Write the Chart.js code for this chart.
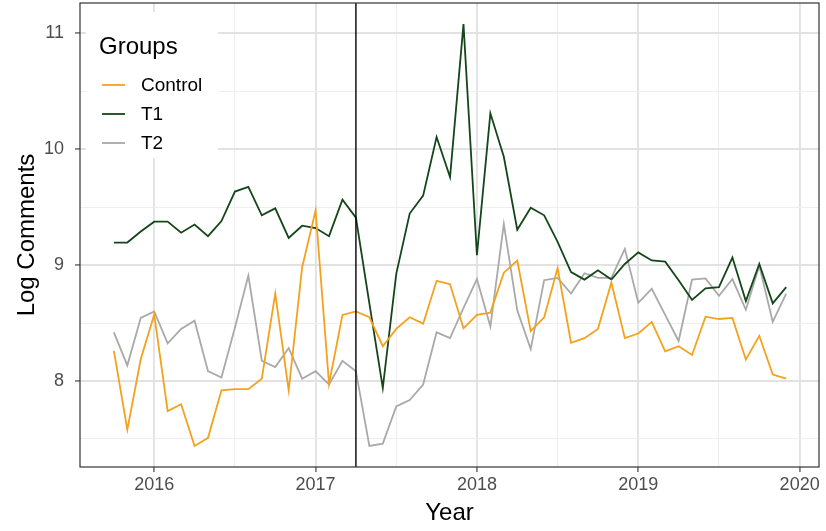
<!DOCTYPE html>
<html>
<head>
<meta charset="utf-8">
<script src="https://cdn.jsdelivr.net/npm/chart.js@4/dist/chart.umd.min.js"></script>
<style>
  html, body { margin: 0; padding: 0; background: #ffffff; }
  #wrap { width: 826px; height: 531px; }
</style>
</head>
<body>
<div id="wrap"><canvas id="chart" width="826" height="531"></canvas></div>
<script>
// Monthly observations, Oct 2015 – Dec 2019
const months = [
  '2015-10','2015-11','2015-12',
  '2016-01','2016-02','2016-03','2016-04','2016-05','2016-06','2016-07','2016-08','2016-09','2016-10','2016-11','2016-12',
  '2017-01','2017-02','2017-03','2017-04','2017-05','2017-06','2017-07','2017-08','2017-09','2017-10','2017-11','2017-12',
  '2018-01','2018-02','2018-03','2018-04','2018-05','2018-06','2018-07','2018-08','2018-09','2018-10','2018-11','2018-12',
  '2019-01','2019-02','2019-03','2019-04','2019-05','2019-06','2019-07','2019-08','2019-09','2019-10','2019-11','2019-12'
];

const control = [
  8.26, 7.58, 8.19,
  8.575, 7.74, 7.80, 7.44, 7.51, 7.92, 7.93, 7.93, 8.02, 8.755, 7.92, 8.98,
  9.47, 7.975, 8.57, 8.60, 8.55, 8.30, 8.45, 8.55, 8.495, 8.865, 8.835, 8.455,
  8.57, 8.59, 8.935, 9.04, 8.43, 8.55, 8.975, 8.33, 8.37, 8.45, 8.85, 8.37,
  8.41, 8.51, 8.255, 8.30, 8.225, 8.555, 8.535, 8.545, 8.185, 8.39, 8.055, 8.02
];

const t1 = [
  9.195, 9.195, 9.29,
  9.375, 9.375, 9.28, 9.35, 9.25, 9.38, 9.635, 9.675, 9.43, 9.49, 9.235, 9.34,
  9.32, 9.25, 9.565, 9.41, 8.67, 7.94, 8.925, 9.445, 9.60, 10.105, 9.76, 11.08,
  9.085, 10.31, 9.935, 9.305, 9.495, 9.43, 9.20, 8.94, 8.875, 8.955, 8.875, 9.01,
  9.11, 9.04, 9.03, 8.87, 8.70, 8.80, 8.81, 9.065, 8.69, 9.01, 8.67, 8.81
];

const t2 = [
  8.42, 8.135, 8.545,
  8.60, 8.325, 8.45, 8.52, 8.085, 8.03, 8.46, 8.91, 8.175, 8.12, 8.285, 8.02,
  8.085, 7.97, 8.175, 8.085, 7.44, 7.46, 7.78, 7.835, 7.97, 8.42, 8.37, 8.63,
  8.88, 8.47, 9.355, 8.61, 8.275, 8.87, 8.89, 8.755, 8.93, 8.89, 8.89, 9.14,
  8.675, 8.795, 8.57, 8.345, 8.875, 8.885, 8.735, 8.88, 8.615, 8.995, 8.51, 8.755
];

const groupNames = ['Control', 'T1', 'T2'];
const groupColors = ['#F4A21E', '#15461A', '#A9A9A9'];
const xTickLabels = [2016, 2017, 2018, 2019, 2020];
const yTickLabels = [8, 9, 10, 11];
const interventionMonth = '2017-04';

const FONT = "'Liberation Sans', Arial, Helvetica, sans-serif";

function monthToYear(s) {
  const [y, m] = s.split('-').map(Number);
  return y + (m - 1) / 12;
}

function toPoints(values) {
  return months.map((m, i) => ({ x: monthToYear(m), y: values[i] }));
}

// Major ticks carry labels; half-way ticks only draw minor grid lines
function withMinor(majors) {
  const out = [majors[0] - 0.5];
  majors.forEach(v => { out.push(v); out.push(v + 0.5); });
  return out;
}

const isMajor = v => Math.abs(v - Math.round(v)) < 1e-6;

const gridStyle = {
  color: ctx => isMajor(ctx.tick.value) ? '#E2E2E2' : '#EEEEEE',
  lineWidth: ctx => isMajor(ctx.tick.value) ? 1.9 : 1.1,
  tickColor: ctx => isMajor(ctx.tick.value) ? '#333333' : 'rgba(0,0,0,0)',
  tickLength: 5,
  tickWidth: 1.1,
  drawTicks: true
};

// Panel frame, vertical reference line and inset legend
const decorations = {
  id: 'decorations',
  afterDatasetsDraw(chart) {
    const { ctx, chartArea: a, scales } = chart;
    const xv = scales.x.getPixelForValue(monthToYear(interventionMonth));
    ctx.save();
    ctx.strokeStyle = '#000000';
    ctx.lineWidth = 1.4;
    ctx.beginPath();
    ctx.moveTo(xv, a.top);
    ctx.lineTo(xv, a.bottom);
    ctx.stroke();
    ctx.restore();
  },
  afterDraw(chart) {
    const { ctx, chartArea: a } = chart;
    ctx.save();
    ctx.fillStyle = '#ffffff';
    ctx.fillRect(86, 12, 132, 146);
    ctx.fillStyle = '#000000';
    ctx.textBaseline = 'middle';
    ctx.textAlign = 'left';
    ctx.font = `24px ${FONT}`;
    ctx.fillText('Groups', 99, 47);
    ctx.font = `19px ${FONT}`;
    chart.data.datasets.forEach((ds, i) => {
      const y = 85 + i * 29;
      ctx.strokeStyle = ds.borderColor;
      ctx.lineWidth = 1.8;
      ctx.beginPath();
      ctx.moveTo(102, y);
      ctx.lineTo(125, y);
      ctx.stroke();
      ctx.fillStyle = '#000000';
      ctx.fillText(ds.label, 141, y + 1);
    });
    ctx.strokeStyle = '#333333';
    ctx.lineWidth = 1.2;
    ctx.strokeRect(a.left, a.top, a.right - a.left, a.bottom - a.top);
    ctx.restore();
  }
};

const series = [control, t1, t2];

new Chart(document.getElementById('chart'), {
  type: 'line',
  data: {
    datasets: series.map((vals, i) => ({
      label: groupNames[i],
      data: toPoints(vals),
      borderColor: groupColors[i],
      backgroundColor: groupColors[i],
      borderWidth: 1.8,
      pointRadius: 0,
      tension: 0,
      fill: false
    }))
  },
  options: {
    responsive: false,
    animation: false,
    devicePixelRatio: 1,
    layout: { padding: { top: 3, right: 7, left: 0, bottom: 0 } },
    plugins: {
      legend: { display: false },
      tooltip: { enabled: false }
    },
    scales: {
      x: {
        type: 'linear',
        min: 2015.54,
        max: 2020.12,
        afterBuildTicks: s => { s.ticks = withMinor(xTickLabels).filter(v => v >= s.min && v <= s.max).map(v => ({ value: v })); },
        afterFit: s => { s.height = 64; s.paddingLeft = 0; s.paddingRight = 0; },
        ticks: {
          autoSkip: false,
          maxRotation: 0,
          padding: 2,
          color: '#4D4D4D',
          font: { family: FONT, size: 18 },
          callback: v => isMajor(v) ? String(Math.round(v)) : ''
        },
        grid: gridStyle,
        border: { display: false },
        title: {
          display: true,
          text: 'Year',
          color: '#000000',
          font: { family: FONT, size: 24 },
          padding: { top: 0, bottom: 3 }
        }
      },
      y: {
        type: 'linear',
        min: 7.258,
        max: 11.262,
        afterBuildTicks: s => { s.ticks = withMinor(yTickLabels).filter(v => v >= s.min && v <= s.max).map(v => ({ value: v })); },
        afterFit: s => { s.width = 80; s.paddingTop = 0; s.paddingBottom = 0; },
        ticks: {
          autoSkip: false,
          padding: 11,
          color: '#4D4D4D',
          font: { family: FONT, size: 18 },
          callback: v => isMajor(v) ? String(Math.round(v)) : ''
        },
        grid: gridStyle,
        border: { display: false },
        title: {
          display: true,
          text: 'Log Comments',
          color: '#000000',
          font: { family: FONT, size: 24 },
          padding: { top: 13, bottom: 0 }
        }
      }
    }
  },
  plugins: [decorations]
});
</script>
</body>
</html>
